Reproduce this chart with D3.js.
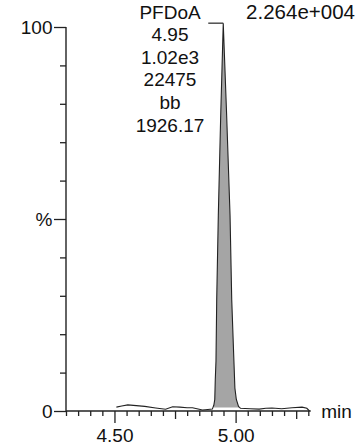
<!DOCTYPE html>
<html>
<head>
<meta charset="utf-8">
<script src="https://cdn.jsdelivr.net/npm/d3@7"></script>
<style>
  body { margin: 0; background: #fff; }
  svg { display: block; }
  text { font-family: "Liberation Sans", Arial, sans-serif; fill: #111; }
</style>
</head>
<body>
<div id="chart"></div>
<script>
// trace: retention time (min) vs relative intensity (%)
var times = [4.508, 4.53, 4.555, 4.59, 4.625, 4.67, 4.711, 4.74, 4.77, 4.80, 4.822, 4.845, 4.863, 4.885, 4.904,
             4.910, 4.914, 4.916, 4.919, 4.922, 4.9286, 4.9385, 4.949, 4.963, 4.977, 4.984, 4.993, 4.997, 5.003, 5.012, 5.020,
             5.06, 5.097, 5.125, 5.15, 5.19, 5.233, 5.274, 5.294, 5.305];
var intensity = [1.0, 1.3, 1.6, 1.4, 1.2, 0.8, 0.45, 1.1, 1.0, 0.85, 0.85, 0.5, 0.25, 0.4, 0.5,
                 1.5, 3, 8, 13, 29, 51, 77, 101, 77, 51, 29, 13, 6, 3, 1.2, 0.7,
                 0.6, 0.5, 0.7, 0.8, 0.6, 0.85, 1.0, 0.7, 0];
var peakRange = [4.908, 5.020];
var apexTime = 4.949;

var yMajor = [0, 50, 100];
var yMinor = [10, 20, 30, 40, 60, 70, 80, 90];
var yLabels = {0: "0", 50: "%", 100: "100"};
var xMajor = [4.50, 5.00];
var xMedium = [4.75, 5.25];
var xMinor = [4.30, 4.35, 4.40, 4.45, 4.55, 4.60, 4.65, 4.70, 4.80, 4.85, 4.90, 4.95, 5.05, 5.10, 5.15, 5.20, 5.30];

var peakInfo = ["PFDoA", "4.95", "1.02e3", "22475", "bb", "1926.17"];
var maxLabel = "2.264e+004";

var width = 358, height = 445;

var svg = d3.select("#chart").append("svg")
  .attr("width", width)
  .attr("height", height);

var x = d3.scaleLinear().domain([4.30, 5.30]).range([66, 308.3]);
var y = d3.scaleLinear().domain([0, 100]).range([411, 27]);

var pts = times.map(function(t, i) { return {t: t, v: intensity[i]}; });

// shaded peak area
var peakPts = pts.filter(function(d) { return d.t >= peakRange[0] && d.t <= peakRange[1]; });
var area = d3.area()
  .x(function(d) { return x(d.t); })
  .y0(y(0.9))
  .y1(function(d) { return y(d.v); });
svg.append("path")
  .datum(peakPts)
  .attr("d", area)
  .attr("fill", "#a5a5a5");

// trace
var line = d3.line()
  .x(function(d) { return x(d.t); })
  .y(function(d) { return y(d.v); });
svg.append("path")
  .datum(pts)
  .attr("d", line)
  .attr("fill", "none")
  .attr("stroke", "#222")
  .attr("stroke-width", 1.1);

// little marker at apex
svg.append("line")
  .attr("x1", x(apexTime) - 15).attr("x2", x(apexTime))
  .attr("y1", y(101)).attr("y2", y(101))
  .attr("stroke", "#222").attr("stroke-width", 1.2);

// y axis
function styleAxis(g) {
  g.select(".domain").remove();
  g.selectAll("line").attr("stroke", "#222").attr("stroke-width", 1.3);
  g.selectAll("text").style("font-size", "19px").attr("fill", "#111");
}
svg.append("g").attr("transform", "translate(66,0)")
  .call(d3.axisLeft(y).tickValues(yMinor).tickSize(6).tickFormat(""))
  .call(styleAxis);
svg.append("g").attr("transform", "translate(66,0)")
  .call(d3.axisLeft(y).tickValues(yMajor).tickSize(12).tickPadding(1.5)
    .tickFormat(function(d) { return yLabels[d]; }))
  .call(styleAxis);
svg.append("line")
  .attr("x1", 66).attr("x2", 66).attr("y1", y(100)).attr("y2", y(0))
  .attr("stroke", "#222").attr("stroke-width", 1.4);

// x axis
svg.append("g").attr("transform", "translate(0,411)")
  .call(d3.axisBottom(x).tickValues(xMinor).tickSize(5).tickFormat(""))
  .call(styleAxis);
svg.append("g").attr("transform", "translate(0,411)")
  .call(d3.axisBottom(x).tickValues(xMedium).tickSize(8).tickFormat(""))
  .call(styleAxis);
svg.append("g").attr("transform", "translate(0,411)")
  .call(d3.axisBottom(x).tickValues(xMajor).tickSize(12).tickPadding(6)
    .tickFormat(d3.format(".2f")))
  .call(styleAxis);
svg.append("line")
  .attr("x1", 66).attr("x2", x(5.31)).attr("y1", 411).attr("y2", 411)
  .attr("stroke", "#222").attr("stroke-width", 1.4);

svg.append("text")
  .attr("x", x(5.30) + 13).attr("y", 418)
  .style("font-size", "19px")
  .text("min");

// peak annotation
svg.append("g").selectAll("text")
  .data(peakInfo)
  .enter().append("text")
  .attr("x", 170)
  .attr("y", function(d, i) { return 18.5 + i * 22.6; })
  .attr("text-anchor", "middle")
  .style("font-size", "19px")
  .text(function(d) { return d; });

svg.append("text")
  .attr("x", 355).attr("y", 18.5)
  .attr("text-anchor", "end")
  .style("font-size", "20.5px")
  .text(maxLabel);
</script>
</body>
</html>
